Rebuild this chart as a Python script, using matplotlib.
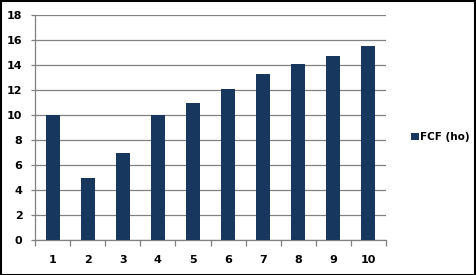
"""FCF (ho) bar chart, Excel-style."""

import matplotlib

matplotlib.use("Agg")
import matplotlib.pyplot as plt
from matplotlib.patches import Rectangle
import numpy as np

categories = ["1", "2", "3", "4", "5", "6", "7", "8", "9", "10"]
fcf_ho = [10, 5, 7, 10, 11, 12.1, 13.3, 14.1, 14.7, 15.5]
y_ticks = [0, 2, 4, 6, 8, 10, 12, 14, 16, 18]

W, H = 476, 275
bar_color = "#17375E"
grid_color = "#808080"

plt.rcParams["font.family"] = ["DejaVu Sans"]
plt.rcParams["font.weight"] = "bold"

fig = plt.figure(figsize=(W / 100, H / 100), dpi=100)
ax = fig.add_axes([35 / W, 35 / H, 351 / W, 225 / H])

x = np.arange(len(categories))
ax.bar(x, fcf_ho, width=0.4, color=bar_color, zorder=3, label="FCF (ho)")

ax.set_xlim(-0.5, len(categories) - 0.5)
ax.set_ylim(0, 18)
ax.set_yticks(y_ticks)
ax.set_yticklabels([str(v) for v in y_ticks], fontsize=8, fontweight="bold")
ax.yaxis.grid(True, color=grid_color, linewidth=0.9, zorder=0)

# category boundaries carry the tick marks, centres carry the labels
ax.set_xticks(np.arange(len(categories) + 1) - 0.5)
ax.set_xticklabels([])
ax.set_xticks(x, minor=True)
ax.set_xticklabels(categories, minor=True, fontsize=8, fontweight="bold")
ax.tick_params(axis="x", which="major", length=4, color=grid_color, width=0.9)
ax.tick_params(axis="x", which="minor", length=0, pad=11)
ax.tick_params(axis="y", length=3, color=grid_color, width=0.9, pad=6)

for side in ("top", "right"):
    ax.spines[side].set_visible(False)
for side in ("left", "bottom"):
    ax.spines[side].set_color(grid_color)
    ax.spines[side].set_linewidth(0.9)

fig.legend(
    loc="center left",
    bbox_to_anchor=(406 / W, 1 - 137 / H),
    frameon=False,
    borderpad=0,
    handlelength=0.75,
    handleheight=0.75,
    handletextpad=0.1,
    prop={"size": 7.5, "weight": "bold"},
)

fig.patches.append(
    Rectangle((0.5 / W, 0.5 / H), 1 - 1.5 / W, 1 - 1.5 / H, transform=fig.transFigure,
              fill=False, edgecolor="black", linewidth=1.5)
)

fig.savefig("out.png", dpi=100)
